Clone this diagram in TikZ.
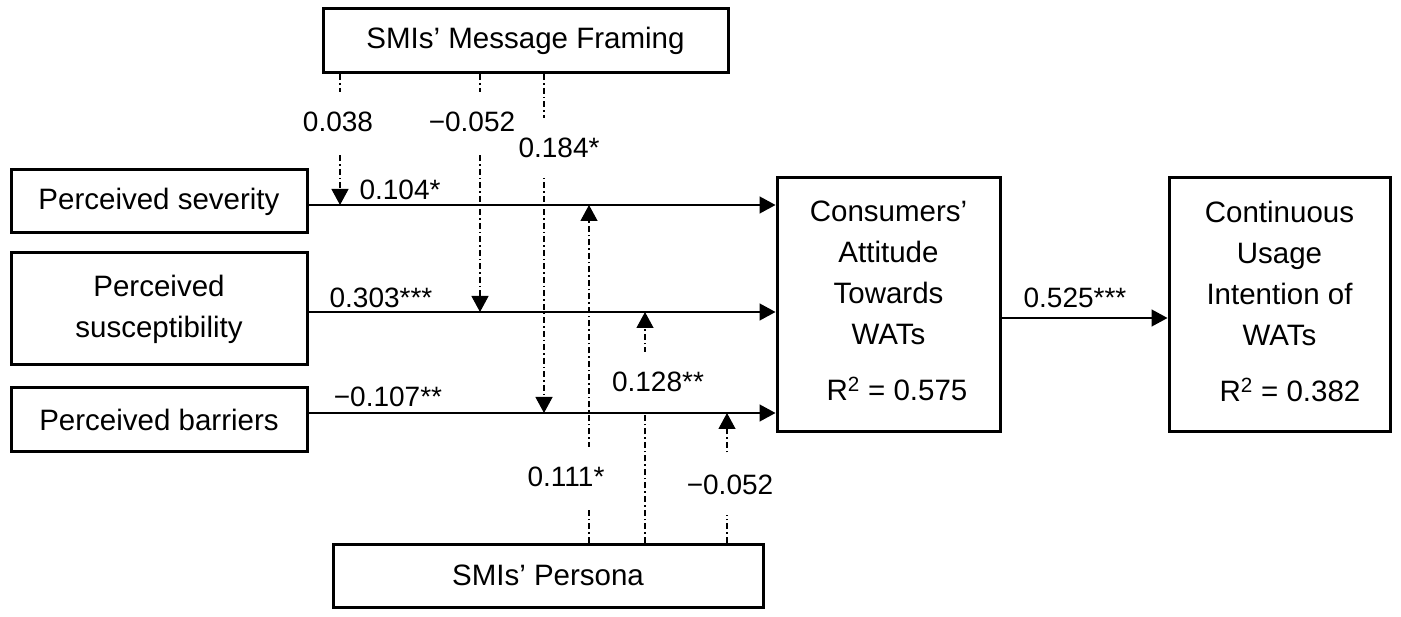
\documentclass[tikz,border=0pt]{standalone}
\usepackage{fontspec}
\setmainfont{Liberation Sans}
\usetikzlibrary{arrows.meta}
\begin{document}
\begin{tikzpicture}[x=1pt,y=-1pt,
  every node/.style={font=\fontsize{28}{41}\selectfont},
  box/.style={draw, line width=3pt, inner sep=0pt, align=center, font=\fontsize{29.5}{41}\selectfont},
  arr/.style={line width=1.5pt, -{Triangle[length=16pt,width=17pt]}},
  mod/.style={line width=1.2pt, dash pattern=on 6pt off 3pt on 1.5pt off 3pt, -{Triangle[length=16pt,width=17pt]}},
  lab/.style={fill=white, inner xsep=2pt, inner ysep=20pt},
  plainlab/.style={inner sep=0pt}]
\useasboundingbox (0,0) rectangle (1401,617);
% boxes
\node[box, minimum width=296pt, minimum height=63pt] (sev) at (159,201.5) {Perceived severity};
\node[box, minimum width=296pt, minimum height=112pt] (sus) at (159,309) {Perceived\\susceptibility};
\node[box, minimum width=296pt, minimum height=64pt] (bar) at (159,420) {Perceived barriers};
\node[box, minimum width=405pt, minimum height=64pt] (mf) at (525.5,41) {SMIs’ Message Framing};
\node[box, minimum width=430pt, minimum height=63pt] (per) at (548,575.5) {SMIs’ Persona};
\node[box, minimum width=223pt, minimum height=254pt] (att) at (888.5,305) {Consumers’\\Attitude\\Towards\\WATs\\[15pt]\hspace*{17pt}R\textsuperscript{2} = 0.575\rule[-8pt]{0pt}{8pt}};
\node[box, minimum width=221pt, minimum height=254pt] (cui) at (1279.5,305) {Continuous\\Usage\\Intention of\\WATs\\[15pt]\hspace*{21pt}R\textsuperscript{2} = 0.382\rule[-8pt]{0pt}{8pt}};
% reference coordinates
\coordinate (L1) at (0,205);
\coordinate (L2) at (0,312);
\coordinate (L3) at (0,413);
\coordinate (L4) at (0,318);
\coordinate (m1) at (340,0);
\coordinate (m2) at (480,0);
\coordinate (m3) at (544,0);
\coordinate (p1) at (589,0);
\coordinate (p2) at (645,0);
\coordinate (p3) at (727,0);
% moderating paths
\draw[mod] (mf.south -| m1) -- (m1 |- L1);
\draw[mod] (mf.south -| m2) -- (m2 |- L2);
\draw[mod] (mf.south -| m3) -- (m3 |- L3);
\draw[mod] (per.north -| p1) -- (p1 |- L1);
\draw[mod] (per.north -| p2) -- (p2 |- L2);
\draw[mod] (per.north -| p3) -- (p3 |- L3);
\node[lab] (lm1) at (338,122) {0.038};
\node[lab] (lm2) at (472,122) {−0.052};
\node[lab] (lm3) at (559,148) {0.184*};
\node[lab] (lp1) at (566,477) {0.111*};
\node[lab] (lp2) at (658,382) {0.128**};
\node[lab] (lp3) at (730,485) {−0.052};
% direct paths
\draw[arr] (sev.east |- L1) -- (att.west |- L1);
\draw[arr] (sus.east |- L2) -- (att.west |- L2);
\draw[arr] (bar.east |- L3) -- (att.west |- L3);
\draw[arr] (att.east |- L4) -- (cui.west |- L4);
\node[plainlab] (l1) at (400,190) {0.104*};
\node[plainlab] (l2) at (381,298) {0.303***};
\node[plainlab] (l3) at (388,397) {−0.107**};
\node[plainlab] (l4) at (1075,298) {0.525***};
\end{tikzpicture}
\end{document}
